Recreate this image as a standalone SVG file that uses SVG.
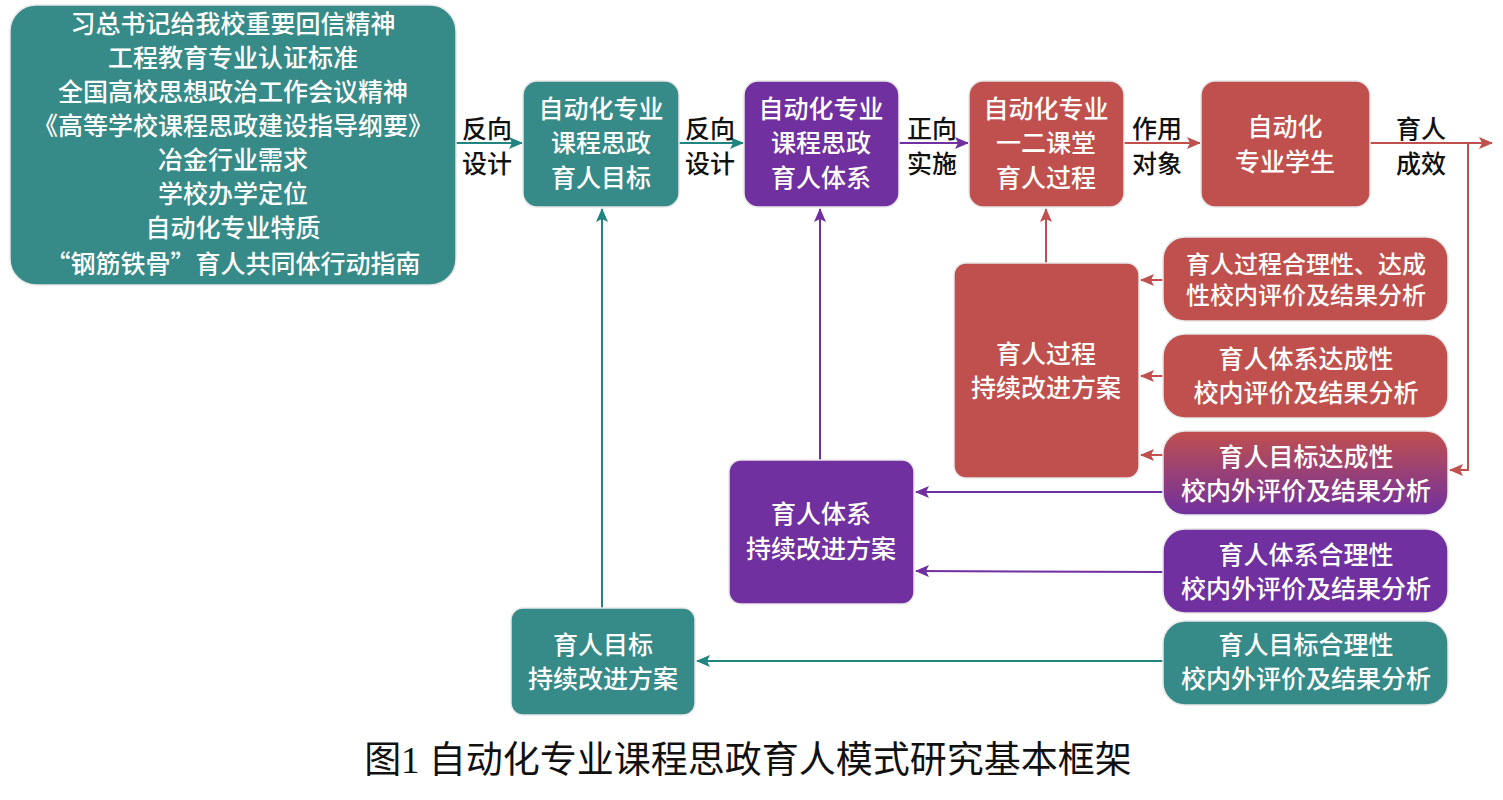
<svg xmlns="http://www.w3.org/2000/svg" width="1503" height="800" viewBox="0 0 1503 800">
<defs>
<linearGradient id="g" x1="0" y1="0" x2="0" y2="1"><stop offset="0" stop-color="#C0504D"/><stop offset="1" stop-color="#7030A0"/></linearGradient>
<marker id="mt" markerWidth="14" markerHeight="12" refX="13" refY="6" orient="auto" markerUnits="userSpaceOnUse"><path d="M0,0 L14,6 L0,12 L3,6 z" fill="#20857F"/></marker>
<marker id="mp" markerWidth="14" markerHeight="12" refX="13" refY="6" orient="auto" markerUnits="userSpaceOnUse"><path d="M0,0 L14,6 L0,12 L3,6 z" fill="#7030A0"/></marker>
<marker id="mr" markerWidth="14" markerHeight="12" refX="13" refY="6" orient="auto" markerUnits="userSpaceOnUse"><path d="M0,0 L14,6 L0,12 L3,6 z" fill="#C0504D"/></marker>
</defs>
<style>
.t{fill:#368B88}.p{fill:#7030A0}.r{fill:#C0504D}
rect{stroke:#e8e8e8;stroke-width:1.5}
text{font-family:"Noto Sans CJK SC",sans-serif;font-size:25px;font-weight:500;text-anchor:middle;dominant-baseline:central}
.w{fill:#fff}.k{fill:#111}
.s{font-size:24px}
.lt{stroke:#20857F;stroke-width:2;fill:none}.lp{stroke:#7030A0;stroke-width:2;fill:none}.lr{stroke:#C0504D;stroke-width:2;fill:none}
</style>
<g id="connectors">
<line class="lt" x1="456" y1="143" x2="522" y2="143" marker-end="url(#mt)"/>
<line class="lt" x1="679" y1="143" x2="743" y2="143" marker-end="url(#mt)"/>
<line class="lp" x1="899" y1="143" x2="968" y2="143" marker-end="url(#mp)"/>
<line class="lr" x1="1124" y1="143" x2="1200" y2="143" marker-end="url(#mr)"/>
<line class="lr" x1="1370" y1="143" x2="1492" y2="143" marker-end="url(#mr)"/>
<polyline class="lr" points="1468,143 1468,470 1450,470" marker-end="url(#mr)"/>
<line class="lr" x1="1046" y1="263" x2="1046" y2="209" marker-end="url(#mr)"/>
<line class="lr" x1="1163" y1="280" x2="1141" y2="280" marker-end="url(#mr)"/>
<line class="lr" x1="1163" y1="376" x2="1141" y2="376" marker-end="url(#mr)"/>
<line class="lr" x1="1163" y1="455" x2="1141" y2="455" marker-end="url(#mr)"/>
<line class="lp" x1="1163" y1="492" x2="916" y2="492" marker-end="url(#mp)"/>
<line class="lp" x1="1163" y1="572" x2="916" y2="571" marker-end="url(#mp)"/>
<line class="lp" x1="820" y1="460" x2="820" y2="209" marker-end="url(#mp)"/>
<line class="lt" x1="602" y1="608" x2="602" y2="209" marker-end="url(#mt)"/>
<line class="lt" x1="1163" y1="661" x2="697" y2="661" marker-end="url(#mt)"/>
</g>
<g id="labels" class="k">
<text x="487" y="127">反向</text><text x="487" y="162">设计</text>
<text x="710" y="127">反向</text><text x="710" y="162">设计</text>
<text x="932" y="127">正向</text><text x="932" y="162">实施</text>
<text x="1157" y="127">作用</text><text x="1157" y="162">对象</text>
<text x="1421" y="127">育人</text><text x="1421" y="162">成效</text>
</g>
<g id="source"><rect class="t" x="10" y="5" width="446" height="280" rx="26"/>
<g class="w"><text x="233" y="22">习总书记给我校重要回信精神</text><text x="233" y="56">工程教育专业认证标准</text><text x="233" y="90">全国高校思想政治工作会议精神</text><text x="233" y="124">《高等学校课程思政建设指导纲要》</text><text x="233" y="158">冶金行业需求</text><text x="233" y="192">学校办学定位</text><text x="233" y="226">自动化专业特质</text><text x="233" y="262">“钢筋铁骨”育人共同体行动指南</text></g></g>
<g id="goal"><rect class="t" x="523" y="81" width="156" height="126" rx="14"/><g class="w"><text x="601" y="107">自动化专业</text><text x="601" y="141">课程思政</text><text x="601" y="176">育人目标</text></g></g>
<g id="system"><rect class="p" x="744" y="81" width="155" height="126" rx="14"/><g class="w"><text x="821" y="107">自动化专业</text><text x="821" y="141">课程思政</text><text x="821" y="176">育人体系</text></g></g>
<g id="process"><rect class="r" x="969" y="81" width="155" height="126" rx="14"/><g class="w"><text x="1046" y="107">自动化专业</text><text x="1046" y="141">一二课堂</text><text x="1046" y="176">育人过程</text></g></g>
<g id="student"><rect class="r" x="1201" y="81" width="169" height="126" rx="14"/><g class="w"><text x="1285" y="125">自动化</text><text x="1285" y="160">专业学生</text></g></g>
<g id="procImp"><rect class="r" x="954" y="263" width="185" height="215" rx="12"/><g class="w"><text x="1046" y="352">育人过程</text><text x="1046" y="386">持续改进方案</text></g></g>
<g id="sysImp"><rect class="p" x="729" y="460" width="185" height="144" rx="12"/><g class="w"><text x="821" y="512">育人体系</text><text x="821" y="547">持续改进方案</text></g></g>
<g id="goalImp"><rect class="t" x="511" y="608" width="184" height="107" rx="12"/><g class="w"><text x="603" y="643">育人目标</text><text x="603" y="677">持续改进方案</text></g></g>
<g id="r1"><rect class="r" x="1163" y="237" width="285" height="84" rx="22"/><g class="w s"><text class="s" x="1306" y="262">育人过程合理性、达成</text><text class="s" x="1306" y="293">性校内评价及结果分析</text></g></g>
<g id="r2"><rect class="r" x="1163" y="334" width="285" height="84" rx="22"/><g class="w"><text x="1306" y="357">育人体系达成性</text><text x="1306" y="391">校内评价及结果分析</text></g></g>
<g id="r3"><rect fill="url(#g)" x="1163" y="431" width="285" height="84" rx="22"/><g class="w"><text x="1306" y="455">育人目标达成性</text><text x="1306" y="489">校内外评价及结果分析</text></g></g>
<g id="r4"><rect class="p" x="1163" y="529" width="285" height="84" rx="22"/><g class="w"><text x="1306" y="553">育人体系合理性</text><text x="1306" y="587">校内外评价及结果分析</text></g></g>
<g id="r5"><rect class="t" x="1163" y="621" width="285" height="84" rx="22"/><g class="w"><text x="1306" y="643">育人目标合理性</text><text x="1306" y="677">校内外评价及结果分析</text></g></g>
<text x="748" y="760" style="font-weight:normal;font-size:37px;font-family:'Liberation Serif','Noto Sans CJK SC',serif" class="k">图1 自动化专业课程思政育人模式研究基本框架</text>
</svg>
